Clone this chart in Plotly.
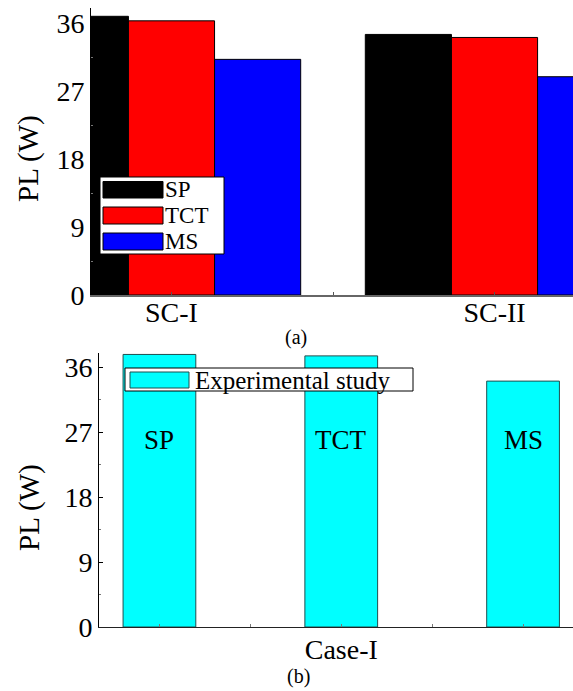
import plotly.graph_objects as go

W, H = 573, 691

# ---- data ----
scenarios = ["SC-I", "SC-II"]
pl_sp = [36.9, 34.5]
pl_tct = [36.3, 34.1]
pl_ms = [31.2, 28.9]

exp_labels = ["SP", "TCT", "MS"]
exp_values = [37.8, 37.6, 34.1]

y_ticks = [0, 9, 18, 27, 36]

FONT = "Liberation Serif, Times New Roman, serif"


def px(x):
    return x / W


def py(y):
    return 1 - y / H


fig = go.Figure()

# ---- panel (a) ----
xa = [1, 2]
for name, vals, col in [("SP", pl_sp, "#000000"), ("TCT", pl_tct, "#ff0000"), ("MS", pl_ms, "#0000ff")]:
    fig.add_trace(go.Bar(x=xa, y=vals, name=name, marker=dict(color=col, line=dict(color="#000000", width=1)),
                         xaxis="x", yaxis="y", showlegend=False))

# ---- panel (b) ----
xb = [1, 2, 3]
fig.add_trace(go.Bar(x=xb, y=exp_values, name="Experimental study", width=[0.4] * 3,
                     marker=dict(color="#00ffff", line=dict(color="#1f4f4f", width=1)),
                     xaxis="x2", yaxis="y2", showlegend=False))

TICKFONT = dict(family=FONT, size=28, color="black")
axis_common = dict(showgrid=False, zeroline=False, showline=True, tickfont=TICKFONT, automargin=False)

fig.update_layout(
    width=W, height=H,
    margin=dict(l=0, r=0, t=0, b=0, autoexpand=False),
    paper_bgcolor="white", plot_bgcolor="white",
    barmode="group", bargap=0.2, bargroupgap=0,
    font=dict(family=FONT, color="black"),
    xaxis=dict(domain=[px(91), 1], range=[0.7508, 2.243], anchor="y",
               tickvals=[1, 1.5, 2], ticktext=["SC-I", "", "SC-II"], ticklabelstandoff=-9,
               ticks="inside", ticklen=3, tickcolor="#555555", linecolor="#666666", linewidth=2,
               **axis_common),
    yaxis=dict(domain=[py(295), py(8)], range=[0, 38], anchor="x",
               tickvals=y_ticks, ticks="inside", ticklen=4, tickcolor="black", linecolor="black", linewidth=1,
               minor=dict(tickvals=[4.5, 13.5, 22.5, 31.5], ticks="inside", ticklen=2, tickcolor="#777777"),
               **axis_common),
    xaxis2=dict(domain=[px(99), 1], range=[0.6676, 3.2747], anchor="y2",
                tickvals=[1, 1.5, 2, 2.5, 3], ticktext=["", "", "Case-I", "", ""], ticklabelstandoff=-3,
                ticks="inside", ticklen=3, tickcolor="#777777", linecolor="#222222", linewidth=1,
                **axis_common),
    yaxis2=dict(domain=[py(627), py(353)], range=[0, 38], anchor="x2",
                tickvals=y_ticks, ticks="inside", ticklen=4, tickcolor="black", linecolor="black", linewidth=1,
                minor=dict(tickvals=[4.5, 13.5, 22.5, 31.5], ticks="inside", ticklen=2, tickcolor="#777777"),
                **axis_common),
)

shapes = []
annotations = []

# legend (a)
shapes.append(dict(type="rect", xref="paper", yref="paper", x0=px(100), x1=px(224), y0=py(254), y1=py(177),
                   fillcolor="white", line=dict(color="black", width=1)))
for (name, col), (y0, y1) in zip([("SP", "#000000"), ("TCT", "#ff0000"), ("MS", "#0000ff")],
                                 [(181.5, 198), (207, 224), (233, 250)]):
    shapes.append(dict(type="rect", xref="paper", yref="paper", x0=px(103), x1=px(163), y0=py(y1), y1=py(y0),
                       fillcolor=col, line=dict(color="black", width=1)))
    annotations.append(dict(xref="paper", yref="paper", x=px(163), y=py((y0 + y1) / 2), text=name,
                            showarrow=False, xanchor="left", yanchor="middle",
                            font=dict(family=FONT, size=23, color="black")))

# legend (b)
shapes.append(dict(type="rect", xref="paper", yref="paper", x0=px(125), x1=px(413), y0=py(391), y1=py(368),
                   fillcolor="white", line=dict(color="black", width=1)))
shapes.append(dict(type="rect", xref="paper", yref="paper", x0=px(130), x1=px(189), y0=py(388), y1=py(372),
                   fillcolor="#00ffff", line=dict(color="#1f4f4f", width=1)))
annotations.append(dict(xref="paper", yref="paper", x=px(193), y=py(380), text="Experimental study",
                        showarrow=False, xanchor="left", yanchor="middle",
                        font=dict(family=FONT, size=25, color="black")))

# bar labels (b)
for xv, lab in zip(xb, exp_labels):
    annotations.append(dict(xref="x2", yref="y2", x=xv, y=25.9, text=lab, showarrow=False,
                            xanchor="center", yanchor="middle",
                            font=dict(family=FONT, size=27, color="black")))

# y-axis titles
for yc in (159, 508):
    annotations.append(dict(xref="paper", yref="paper", x=px(29), y=py(yc), text="PL (W)", textangle=-90,
                            showarrow=False, xanchor="center", yanchor="middle",
                            font=dict(family=FONT, size=29, color="black")))

# panel captions
annotations.append(dict(xref="paper", yref="paper", x=px(296), y=py(337), text="(a)", showarrow=False,
                        xanchor="center", yanchor="middle", font=dict(family=FONT, size=20, color="black")))
annotations.append(dict(xref="paper", yref="paper", x=px(298), y=py(676), text="(b)", showarrow=False,
                        xanchor="center", yanchor="middle", font=dict(family=FONT, size=20, color="black")))

fig.update_layout(shapes=shapes, annotations=annotations)

fig.write_html("out.html", config={"displayModeBar": False},
               post_script="document.body.style.margin='0';document.body.style.overflow='hidden';")
